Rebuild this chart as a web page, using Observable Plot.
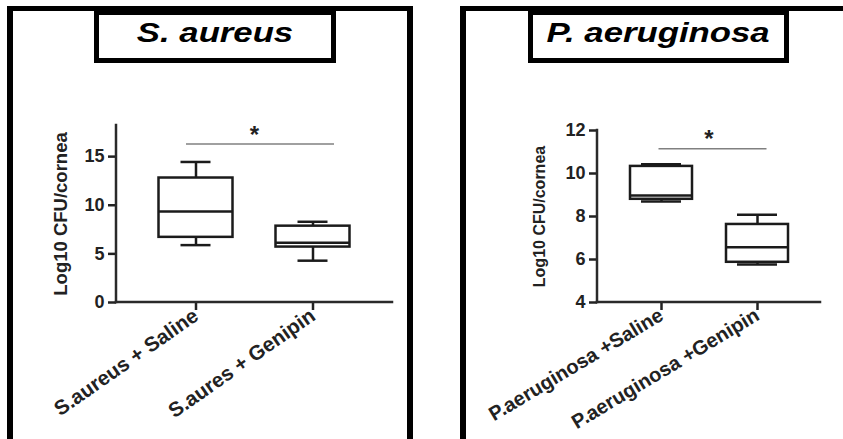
<!DOCTYPE html>
<html><head><meta charset="utf-8">
<script src="https://cdn.jsdelivr.net/npm/d3@7"></script>
<script src="https://cdn.jsdelivr.net/npm/@observablehq/plot@0.6"></script>
<style>
body{margin:0;background:#fff;}
#root{position:relative;width:843px;height:439px;overflow:hidden;font-family:"Liberation Sans",Arial,sans-serif;}
.panel{position:absolute;border:6px solid #000;border-top-width:5px;border-bottom:none;box-sizing:border-box;}
.tbox{position:absolute;border:5px solid #000;border-top-width:9px;box-sizing:border-box;display:flex;align-items:center;justify-content:center;background:#fff;}
.tbox span{display:inline-block;font-weight:bold;font-style:italic;font-size:28px;transform:translateY(-4px) scaleX(1.24);color:#000;}
.chart{position:absolute;top:0;}
</style></head>
<body>
<div id="root">
  <div class="chart" id="c1" style="left:0;width:420px;"></div>
  <div class="chart" id="c2" style="left:420px;width:423px;"></div>
  <div class="panel" style="left:7px;top:6px;width:406px;height:500px;"></div>
  <div class="panel" style="left:460px;top:6px;width:420px;height:500px;"></div>
  <div class="tbox" style="left:94px;top:6px;width:242px;height:57px;"><span>S. aureus</span></div>
  <div class="tbox" style="left:528px;top:6px;width:261px;height:57px;"><span>P. aeruginosa</span></div>
</div>
<script>
// ---- Data: S. aureus panel ----
const saCats = ["S.aureus + Saline", "S.aures + Genipin"];
const saMin = [5.9, 4.3];
const saQ1  = [6.7, 5.7];
const saMed = [9.35, 6.15];
const saQ3  = [12.8, 7.85];
const saMax = [14.45, 8.3];
const saTicks = [0, 5, 10, 15];
const saDomain = [0, 18.2];
const saSig = 16.3;

// ---- Data: P. aeruginosa panel ----
const paCats = ["P.aeruginosa +Saline", "P.aeruginosa +Genipin"];
const paMin = [8.7, 5.77];
const paQ1  = [8.8, 5.87];
const paMed = [8.98, 6.57];
const paQ3  = [10.33, 7.63];
const paMax = [10.43, 8.08];
const paTicks = [4, 6, 8, 10, 12];
const paDomain = [4, 12];
const paSig = 11.15;

const yLabel = "Log10 CFU/cornea";
const FONT = "'Liberation Sans', Arial, sans-serif";
const INK = "#1b1b1b";

function rows(cats, mn, q1, md, q3, mx) {
  return cats.map((c, i) => ({cat: c, min: mn[i], q1: q1[i], med: md[i], q3: q3[i], max: mx[i]}));
}

function axisLines(index, scales, values, dims) {
  const g = d3.create("svg:g").attr("stroke", "#2a2a2a").attr("stroke-width", 2.5).attr("stroke-linecap", "square");
  const left = dims.marginLeft, bottom = dims.height - dims.marginBottom;
  g.append("line").attr("x1", left).attr("x2", left).attr("y1", dims.marginTop).attr("y2", bottom);
  g.append("line").attr("x1", left).attr("x2", dims.width - dims.marginRight).attr("y1", bottom).attr("y2", bottom);
  return g.node();
}

function panel(cfg) {
  const data = rows(cfg.cats, cfg.min, cfg.q1, cfg.med, cfg.q3, cfg.max);
  const sigData = [{y: cfg.sig, a: cfg.cats[0], b: cfg.cats[1]}];
  return Plot.plot({
    width: cfg.width, height: 439,
    marginLeft: cfg.ml, marginRight: cfg.mr, marginTop: cfg.mt, marginBottom: 137,
    style: {background: "transparent", fontFamily: FONT, color: "#222", overflow: "visible"},
    x: {domain: cfg.cats, paddingInner: 0, paddingOuter: cfg.po, axis: null},
    y: {domain: cfg.domain, axis: null},
    marks: [
      Plot.axisY({ticks: cfg.ticks, tickSize: 8, tickPadding: 4, fontSize: cfg.tickFont, fontWeight: "bold", strokeWidth: 2.5, label: null}),
      Plot.axisX({tickSize: 8, tickPadding: 3, tickRotate: cfg.rot, fontSize: cfg.xFont, fontWeight: "bold", strokeWidth: 2.5, label: null}),
      axisLines,
      Plot.text([yLabel], {frameAnchor: "left", textAnchor: "middle", rotate: -90, dx: -cfg.labelOffset, lineAnchor: "top", fontSize: cfg.labelFont, fontWeight: "bold", fill: "#222"}),
      // whiskers
      Plot.ruleX(data, {x: "cat", y1: "min", y2: "q1", stroke: INK, strokeWidth: 2.5}),
      Plot.ruleX(data, {x: "cat", y1: "q3", y2: "max", stroke: INK, strokeWidth: 2.5}),
      Plot.tickY(data, {x: "cat", y: "min", stroke: INK, strokeWidth: 2.5, insetLeft: cfg.capInset, insetRight: cfg.capInset}),
      Plot.tickY(data, {x: "cat", y: "max", stroke: INK, strokeWidth: 2.5, insetLeft: cfg.capInset, insetRight: cfg.capInset}),
      // boxes
      Plot.barY(data, {x: "cat", y1: "q1", y2: "q3", fill: "white", stroke: INK, strokeWidth: 2.5, insetLeft: cfg.boxInset, insetRight: cfg.boxInset}),
      Plot.tickY(data, {x: "cat", y: "med", stroke: INK, strokeWidth: 2.5, insetLeft: cfg.boxInset, insetRight: cfg.boxInset}),
      // significance
      Plot.ruleY(sigData, {y: "y", x1: "a", x2: "b", stroke: "#808080", strokeWidth: 1.6, insetLeft: cfg.sigL, insetRight: cfg.sigR}),
      Plot.text(sigData, {y: "y", text: () => "*", dy: -9, fontSize: 24, fontWeight: "bold", fill: "#222"})
    ]
  });
}

document.getElementById("c1").appendChild(panel({
  cats: saCats, min: saMin, q1: saQ1, med: saMed, q3: saQ3, max: saMax,
  ticks: saTicks, domain: saDomain, sig: saSig,
  width: 420, ml: 116, mr: 28, mt: 125, po: 0.17,
  boxInset: 21.5, capInset: 43.5, sigL: 49, sigR: 37,
  rot: -35, xFont: 20.5, tickFont: 18, labelFont: 18.5, labelOffset: 63
}));

document.getElementById("c2").appendChild(panel({
  cats: paCats, min: paMin, q1: paQ1, med: paMed, q3: paQ3, max: paMax,
  ticks: paTicks, domain: paDomain, sig: paSig,
  width: 423, ml: 177, mr: 23, mt: 130, po: 0.15,
  boxInset: 17, capInset: 28, sigL: 45.5, sigR: 38.5,
  rot: -31, xFont: 20, tickFont: 18, labelFont: 16, labelOffset: 64
}));
</script>
</body></html>
